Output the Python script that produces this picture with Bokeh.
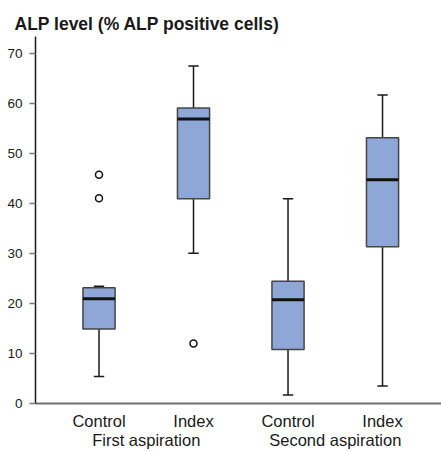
from bokeh.plotting import figure
from bokeh.models import LinearAxis, FixedTicker, Range1d, ColumnDataSource
from bokeh.embed import file_html
from bokeh.resources import INLINE

# Data
categories = ["Control", "Index", "Control", "Index"]
groups = ["First aspiration", "Second aspiration"]
positions = [1, 2, 3, 4]
lower_whisker = [5.4, 30.1, 1.7, 3.5]
q1 = [14.9, 41.0, 10.8, 31.4]
median = [21.0, 57.0, 20.8, 44.8]
q3 = [23.2, 59.2, 24.5, 53.2]
upper_whisker = [23.5, 67.6, 41.0, 61.8]
outlier_x = [1, 1, 2]
outlier_y = [45.8, 41.1, 12.0]
y_ticks = [0, 10, 20, 30, 40, 50, 60, 70]

FONT = "Liberation Sans"
BOX_W = 0.34
CAP_W = 0.055

p = figure(width=441, height=451, output_backend="svg", toolbar_location=None,
           x_range=Range1d(0.328, 4.624), y_range=Range1d(0, 73.5),
           x_axis_location=None, y_axis_location=None,
           min_border_left=35, min_border_right=0, min_border_bottom=0,
           min_border_top=36)
p.outline_line_color = None
p.grid.visible = False
p.background_fill_color = "white"
p.border_fill_color = "white"

p.title.text = "ALP level (% ALP positive cells)"
p.title.text_font = FONT
p.title.text_font_size = "17.5px"
p.title.text_font_style = "bold"
p.title.text_color = "#1a1a1a"
p.title.offset = -21
p.title.standoff = 5

# y axis
yax = LinearAxis(ticker=FixedTicker(ticks=y_ticks))
yax.axis_line_color = "#1a1a1a"
yax.axis_line_width = 1.5
yax.major_tick_line_color = "#777777"
yax.major_tick_line_width = 1.5
yax.major_tick_out = 6
yax.major_tick_in = 0
yax.minor_tick_line_color = None
yax.major_label_standoff = 7
yax.major_label_text_font = FONT
yax.major_label_text_font_size = "13.5px"
yax.major_label_text_color = "#1a1a1a"
p.add_layout(yax, "left")

# x axis: categories
xax = LinearAxis(ticker=FixedTicker(ticks=positions))
xax.major_label_overrides = {pos: lab for pos, lab in zip(positions, categories)}
xax.axis_line_color = "#6e6e6e"
xax.axis_line_width = 2
xax.major_tick_line_color = None
xax.minor_tick_line_color = None
xax.major_tick_out = 0
xax.major_label_standoff = 8
xax.major_label_text_font = FONT
xax.major_label_text_font_size = "16.5px"
xax.major_label_text_color = "#1a1a1a"
p.add_layout(xax, "below")

# x axis: groups
group_pos = [1.5, 3.5]
gax = LinearAxis(ticker=FixedTicker(ticks=group_pos))
gax.major_label_overrides = {pos: lab for pos, lab in zip(group_pos, groups)}
gax.axis_line_color = None
gax.major_tick_line_color = None
gax.minor_tick_line_color = None
gax.major_tick_out = 0
gax.major_label_standoff = -2
gax.major_label_text_font = FONT
gax.major_label_text_font_size = "16.5px"
gax.major_label_text_color = "#1a1a1a"
p.add_layout(gax, "below")

src = ColumnDataSource(dict(
    x=positions, lw=lower_whisker, q1=q1, med=median, q3=q3, uw=upper_whisker,
    x0=[x - BOX_W / 2 for x in positions], x1=[x + BOX_W / 2 for x in positions],
    c0=[x - CAP_W for x in positions], c1=[x + CAP_W for x in positions],
))

# whiskers
p.segment(x0="x", y0="q3", x1="x", y1="uw", source=src, line_color="#1a1a1a", line_width=1.5)
p.segment(x0="x", y0="q1", x1="x", y1="lw", source=src, line_color="#1a1a1a", line_width=1.5)
p.segment(x0="c0", y0="uw", x1="c1", y1="uw", source=src, line_color="#1a1a1a", line_width=1.5)
p.segment(x0="c0", y0="lw", x1="c1", y1="lw", source=src, line_color="#1a1a1a", line_width=1.5)

# boxes
p.vbar(x="x", width=BOX_W, bottom="q1", top="q3", source=src,
       fill_color="#8fa7d6", line_color="#454545", line_width=1.5)
# medians
p.segment(x0="x0", y0="med", x1="x1", y1="med", source=src, line_color="#111111", line_width=3)

# outliers
p.scatter(outlier_x, outlier_y, marker="circle", size=7, fill_color="white",
          line_color="#111111", line_width=1.5)

open("out.html", "w").write(file_html(p, INLINE))
